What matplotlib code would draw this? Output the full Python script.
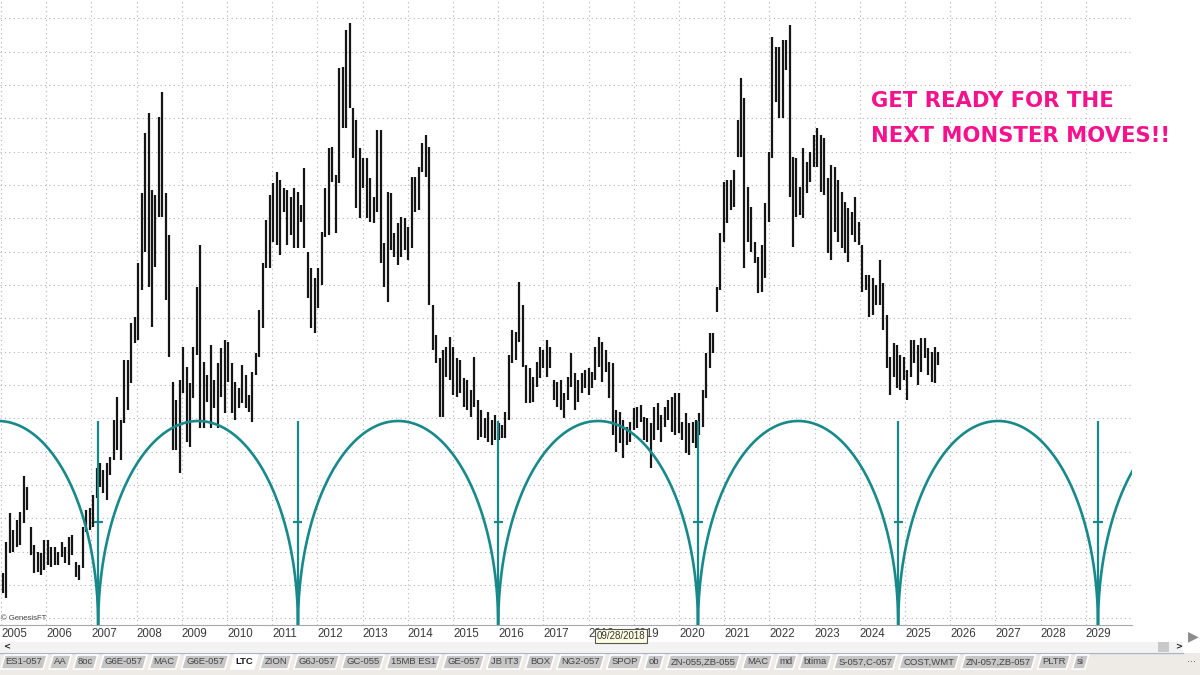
import numpy as np
import pandas as pd
import matplotlib
matplotlib.use('Agg')
import matplotlib.pyplot as plt
from matplotlib.patches import Polygon, Rectangle

# bars: 4-week bars, price in chart units (no price scale shown)
first_bar = '2005-01-16'
highs = [
    23.6, 32.9, 41.6, 36.5, 39.5, 41.9, 52.7, 49.4, 37.4, 32.0,
    29.9, 29.6, 33.5, 33.5, 31.4, 31.4, 29.9, 32.9, 31.4, 34.4,
    35.0, 26.9, 26.0, 37.4, 42.5, 43.1, 47.0, 55.0, 56.5, 54.5,
    56.5, 58.5, 69.5, 76.5, 69.5, 87.5, 87.5, 98.5, 100.5, 116.5,
    137.5, 155.5, 161.5, 138.5, 137.0, 160.5, 168.0, 137.5, 125.0, 81.0,
    75.5, 81.5, 91.5,
    85.5, 80.5, 91.5, 109.5, 122.0, 87.0, 83.0, 92.0, 81.5, 86.5,
    91.0, 93.5, 93.0, 86.5, 81.0, 79.0, 86.0, 83.0, 77.0, 84.0,
    89.5, 102.5, 116.5, 129.5, 137.0, 140.5, 144.0, 141.5, 139.0, 138.5,
    136.5, 139.0, 138.0, 134.0, 145.0, 120.0, 115.0, 112.0, 115.0, 126.0,
    139.0, 151.0, 151.5, 143.0, 175.0, 175.5, 186.5, 188.5, 163.0, 159.5,
    151.0, 148.0, 148.0, 142.0, 136.5,
    156.5, 156.5, 122.5, 138.0, 137.5, 125.5, 128.5, 130.5, 130.0, 127.5,
    142.5, 142.5, 145.5, 152.5, 155.0, 151.5, 104.0, 95.0, 88.0, 90.5,
    91.5, 94.5, 91.5, 88.0, 87.5, 82.0, 81.5, 78.5, 88.5, 75.5,
    72.5, 70.0, 72.0, 69.5, 71.0, 68.5, 68.0, 72.0, 89.0, 96.5,
    96.0, 111.0, 104.0, 86.0, 85.0, 82.5, 87.0, 91.5, 90.5, 93.5,
    91.5, 81.5, 81.0, 81.5, 77.5, 82.5, 89.5, 83.5,
    81.5, 83.5, 84.5, 85.0, 84.0, 91.5, 94.5, 93.0, 90.5, 87.0,
    86.5, 72.5, 72.0, 69.5, 67.5, 69.0, 73.0, 73.5, 74.0, 70.5,
    70.0, 68.5, 73.5, 74.5, 71.0, 73.5, 75.5, 76.5, 77.5, 77.5,
    69.0, 71.5, 68.5, 69.0, 69.5, 71.5, 78.5, 89.5, 95.5, 95.5,
    109.5, 125.5, 141.0, 141.5, 141.5, 144.5, 159.5, 172.0, 166.0, 139.5,
    133.5, 123.0,
    118.5, 122.0, 134.5, 150.0, 184.5, 181.5, 181.5, 183.5, 183.5, 188.0,
    148.5, 148.0, 139.5, 151.0, 147.0, 150.0, 155.0, 157.0, 155.0, 154.0,
    142.0, 146.0, 145.5, 141.5, 138.0, 135.0, 133.0, 132.0, 136.5, 129.0,
    122.0, 113.0, 113.0, 112.0, 110.0, 117.5, 110.5, 101.0, 88.5, 92.5,
    92.0, 89.0, 88.5, 84.5, 93.5, 93.5, 92.0, 94.0, 94.0, 91.0,
    90.0, 91.5, 90.0,
]
lows = [
    17.6, 16.1, 29.6, 29.9, 31.4, 32.0, 38.6, 42.5, 29.0, 23.6,
    23.9, 23.0, 24.5, 26.0, 25.4, 26.0, 26.0, 28.4, 26.6, 26.0,
    29.0, 22.4, 21.5, 25.1, 35.9, 36.5, 37.4, 46.0, 49.5, 47.5,
    45.5, 53.0, 57.5, 60.5, 57.5, 68.5, 72.5, 80.5, 92.5, 93.5,
    108.5, 120.0, 109.5, 97.5, 115.5, 130.5, 130.5, 105.5, 88.5, 60.5,
    60.5, 53.5, 77.5,
    63.0, 61.5, 76.0, 89.0, 67.0, 67.0, 75.0, 67.0, 73.0, 67.0,
    76.5, 71.5, 81.0, 71.5, 69.5, 73.0, 74.5, 73.0, 72.0, 69.0,
    83.0, 88.5, 97.0, 115.0, 115.0, 123.0, 122.0, 119.0, 132.0, 122.0,
    125.0, 121.0, 121.0, 129.0, 121.0, 106.0, 97.0, 95.5, 103.0, 110.0,
    124.5, 125.0, 141.0, 125.5, 140.5, 157.0, 157.0, 163.0, 148.0, 133.0,
    130.0, 139.0, 130.0, 129.0, 128.5,
    132.0, 116.5, 109.5, 105.0, 120.5, 118.5, 116.0, 118.5, 120.5, 117.5,
    121.0, 132.0, 132.5, 144.0, 142.5, 104.0, 90.5, 86.5, 70.5, 70.5,
    82.5, 81.5, 77.0, 76.5, 77.5, 73.5, 72.5, 70.5, 73.5, 63.5,
    64.5, 64.0, 63.0, 62.0, 63.5, 63.5, 64.0, 64.0, 69.5, 86.5,
    87.5, 93.0, 85.5, 74.5, 74.5, 75.0, 79.5, 82.0, 85.0, 82.5,
    85.0, 75.5, 73.5, 72.5, 70.0, 75.5, 79.5, 72.5,
    75.0, 77.5, 79.0, 77.0, 79.0, 81.5, 85.5, 81.0, 84.0, 76.0,
    65.0, 60.0, 62.5, 58.0, 62.0, 63.0, 66.5, 67.0, 69.0, 63.5,
    63.0, 55.0, 63.5, 66.5, 63.0, 67.5, 69.5, 66.0, 65.0, 65.5,
    63.5, 59.5, 59.0, 62.5, 61.0, 65.0, 67.5, 76.0, 85.0, 89.5,
    102.0, 108.5, 123.0, 128.5, 132.5, 133.5, 148.5, 148.5, 115.0, 123.0,
    120.0, 116.5,
    107.5, 108.0, 112.0, 129.0, 148.0, 165.0, 160.0, 160.0, 174.5, 136.5,
    121.5, 130.5, 131.0, 130.0, 137.5, 141.0, 145.5, 145.5, 138.0, 137.0,
    119.5, 117.5, 126.0, 123.0, 121.0, 119.5, 117.0, 125.0, 123.0, 122.0,
    108.0, 108.5, 100.5, 101.0, 104.0, 104.0, 96.5, 85.0, 77.0, 82.5,
    79.0, 78.5, 81.5, 75.5, 82.5, 86.5, 80.0, 84.0, 88.0, 83.0,
    81.0, 80.5, 86.0,
]

# cycle lows (decimal years), arc crest and the mid marker on each cycle line
cycle_troughs = [2002.72, 2007.15, 2011.57, 2016.00, 2020.42, 2024.85, 2029.27, 2033.70]
cycle_top = 69.2
cycle_mark = 38.9

years = list(range(2005, 2030))
tabs = ['ES1-057', 'AA', '8oc', 'G6E-057', 'MAC', 'G6E-057', 'LTC', 'ZION', 'G6J-057',
        'GC-055', '15MB ES1', 'GE-057', 'JB IT3', 'BOX', 'NG2-057', 'SPOP', 'ob',
        'ZN-055,ZB-055', 'MAC', 'md', 'btima', 'S-057,C-057', 'COST,WMT',
        'ZN-057,ZB-057', 'PLTR', 'si']
active_tab = 'LTC'
cursor_label = '09/28/2018'
headline = ['GET READY FOR THE', 'NEXT MONSTER MOVES!!']

TEAL = '#17898a'
PINK = '#f5128c'

dates = pd.date_range(first_bar, periods=len(highs), freq='28D')
t = dates.year + (dates.dayofyear - 0.5) / 365.25

fig = plt.figure(figsize=(12, 6.75), dpi=100)
ax = fig.add_axes([0, 50 / 675, 1132 / 1200, 625 / 675])
x0 = 2005 - 1 / 45.2
ax.set_xlim(x0, x0 + 1132 / 45.2)
ax.set_ylim(8.0, 195.5)

ax.vlines(t, lows, highs, color='#151515', lw=1.6, zorder=3)

base = 8.0
for a, b in zip(cycle_troughs[:-1], cycle_troughs[1:]):
    u = np.linspace(-1, 1, 600)
    ax.plot((a + b) / 2 + (b - a) / 2 * u, base + (cycle_top - base) * np.sqrt(1 - u ** 2),
            color=TEAL, lw=1.9, zorder=4)
tr = np.array(cycle_troughs)
ax.vlines(tr, base, cycle_top, color=TEAL, lw=1.6, zorder=4)
ax.hlines(np.full(len(tr), cycle_mark), tr - 0.1, tr + 0.1, color=TEAL, lw=1.6, zorder=4)

ax.set_xticks(years)
ax.set_xticklabels([str(y) for y in years])
ax.set_yticks(np.arange(10, 195, 10))
ax.grid(True, color='#b3b3b3', lw=0.8, ls=(0, (1, 3)))
ax.set_axisbelow(True)
ax.tick_params(axis='x', length=0, pad=2.5, labelsize=8.3, labelcolor='#3a3a3a')
ax.tick_params(axis='y', length=0, labelleft=False)
for lab in ax.get_xticklabels():
    lab.set_horizontalalignment('left')
    lab.set_fontfamily('Liberation Sans')
for s in ['top', 'left', 'right']:
    ax.spines[s].set_visible(False)
ax.spines['bottom'].set_color('#a8a8a8')

# overlay in pixel coordinates for the window furniture
ui = fig.add_axes([0, 0, 1, 1], zorder=5)
ui.set_xlim(0, 1200)
ui.set_ylim(675, 0)
ui.axis('off')

ui.text(1, 619, '\u00a9 GenesisFT', fontsize=5.5, color='#444444', va='center',
        family='Liberation Sans')
for i, line in enumerate(headline):
    ui.text(871, 101 + 35 * i, line, color=PINK, fontsize=15.2, fontweight='bold',
            family='DejaVu Sans', va='center', ha='left')

ui.text(621, 636, cursor_label, fontsize=7, color='#333333', ha='center', va='center',
        family='Liberation Sans',
        bbox=dict(boxstyle='square,pad=0.2', fc='#ffffe4', ec='#555555', lw=0.8))

ui.add_patch(Rectangle((0, 642), 1183, 10, fc='#f3f3f3', ec='none'))
ui.plot([0, 1183], [652.5, 652.5], color='#a9b4c4', lw=1)
ui.add_patch(Rectangle((0, 653), 1200, 22, fc='#eeebe6', ec='none'))
ui.add_patch(Rectangle((1158, 642), 11, 10, fc='#c9c9c9', ec='none'))
ui.text(3, 647, '<', fontsize=6, fontweight='bold', va='center', color='#222222')
ui.text(1175, 647, '>', fontsize=6, fontweight='bold', va='center', color='#222222')
ui.text(1193, 636, '\u25b6', fontsize=10, ha='center', va='center', color='#8c8c8c')
ui.text(1192, 659, '...', fontsize=7, ha='center', va='center', color='#555555')

renderer = fig.canvas.get_renderer()
x = 1
for name in tabs:
    active = name == active_tab
    txt = ui.text(0, 662, name, fontsize=6.8, va='center', ha='center',
                  family='Liberation Sans', color='#1a1a1a' if active else '#444444',
                  fontweight='bold' if active else 'normal', zorder=3)
    w = txt.get_window_extent(renderer).width + 9.3
    ui.add_patch(Polygon([(x, 669), (x + w - 4, 669), (x + w, 655), (x + 4, 655)],
                         closed=True, fc='#ffffff' if active else '#c6c6c6',
                         ec='#ffffff', lw=1.2, zorder=2))
    txt.set_x(x + w / 2)
    x += w + 2

fig.savefig('out.png', dpi=100)
